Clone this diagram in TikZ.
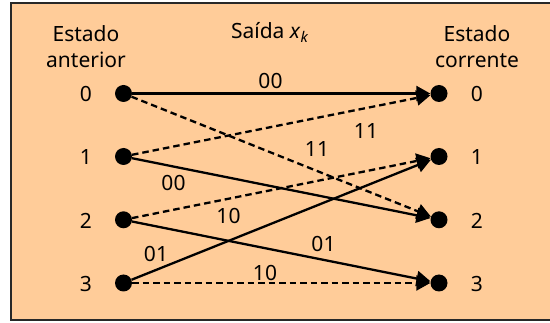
\documentclass[tikz,border=0pt]{standalone}
\usepackage{fontspec}
\setmainfont{Noto Sans}
\usetikzlibrary{arrows.meta}
\definecolor{panelfill}{RGB}{255,204,153}
\definecolor{panelline}{RGB}{40,40,40}
\begin{document}
\begin{tikzpicture}[x=1pt,y=-1pt,
  every node/.style={font=\fontsize{21}{25}\selectfont, text=black},
  state/.style={circle,fill=black,minimum size=17pt,inner sep=0pt},
  txt/.style={anchor=base,inner sep=0pt},
  trans/.style={line width=2.3pt,-{Triangle[length=14pt,width=15pt]}},
  dashtrans/.style={trans,dash pattern=on 6.5pt off 4pt},
]
\useasboundingbox (0,0) rectangle (550,323);
% panel
\draw[fill=panelfill,draw=panelline,line width=2pt] (11,3) rectangle (553,320.5);

% column headings
\node[txt] (hl1) at (86,41.5) {Estado};
\node[txt] (hl2) at (86,68) {anterior};
\node[txt] (hm)  at (270,38.5) {Saída \textit{x}\textsubscript{\textit{k}}};
\node[txt] (hr1) at (477,41.5) {Estado};
\node[txt] (hr2) at (477,68) {corrente};

% trellis states
\foreach \i/\y in {0/93.5,1/156.5,2/219.8,3/283} {
  \node[state] (p\i) at (123.5,\y) {};
  \node[state] (c\i) at (439,\y) {};
  \node[txt] (lp\i) at (86,\y+8.3) {\i};
  \node[txt] (lc\i) at (477,\y+8.3) {\i};
}

% transitions
\draw[trans]     (p0) -- (c0);
\draw[dashtrans] (p0) -- (c2);
\draw[dashtrans] (p1) -- (c0);
\draw[trans]     (p1) -- (c2);
\draw[dashtrans] (p2) -- (c1);
\draw[trans]     (p2) -- (c3);
\draw[trans]     (p3) -- (c1);
\draw[dashtrans] (p3) -- (c3);

% output labels
\node[txt] (o00a) at (270.5,88.3) {00};
\node[txt] (o11a) at (366,138.3) {11};
\node[txt] (o11b) at (317,156.7) {11};
\node[txt] (o00b) at (173.5,190.7) {00};
\node[txt] (o10a) at (228.5,223.3) {10};
\node[txt] (o01a) at (156,262) {01};
\node[txt] (o01b) at (323.5,252) {01};
\node[txt] (o10b) at (265,280.5) {10};
\end{tikzpicture}
\end{document}
